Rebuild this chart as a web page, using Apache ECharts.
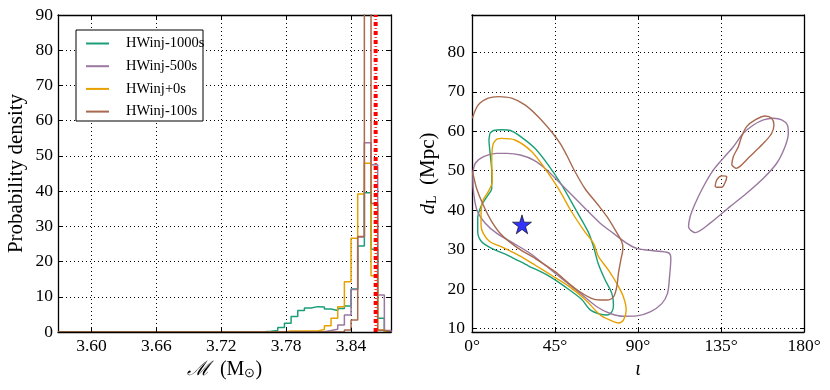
<!DOCTYPE html>
<html>
<head>
<meta charset="utf-8">
<script src="https://cdn.jsdelivr.net/npm/echarts@6/dist/echarts.min.js"></script>
<style>
  html, body { margin: 0; padding: 0; background: #fff; }
  #chart { width: 830px; height: 390px; }
</style>
</head>
<body>
<div id="chart"></div>
<script>
  // ---- left panel: chirp mass histograms (50 bins between mcMin and mcMax)
  const mcMin = 3.569, mcMax = 3.877, nBins = 50;
  const mcTicks = [3.60, 3.66, 3.72, 3.78, 3.84];
  const mcTrue = 3.8628;
  const histNames = ['HWinj-1000s', 'HWinj-500s', 'HWinj+0s', 'HWinj-100s'];
  const colors = ['#1b9e77', '#9a78a0', '#e6a100', '#a8694e'];

  const dens1000 = [0,0,0,0,0,0,0,0,0,0, 0,0,0,0,0,0,0,0,0,0, 0,0,0,0,0,0,0,0,0,0,
    0.1,0.2,0.4,1.3,2.5,4.4,6.1,6.8,7.2,7.1, 6.5,6.1,6.7,7.4,12.2,24.4,39.5,23.5,3.9,0];
  const dens500 = [0,0,0,0,0,0,0,0,0,0, 0,0,0,0,0,0,0,0,0,0, 0,0,0,0,0,0,0,0,0,0,
    0,0,0,0,0,0,0,0,0,0.1, 0.4,0.8,2.0,4.8,12.1,27.0,53.7,47.5,10.5,0.4];
  const dens0 = [0,0,0,0,0,0,0,0,0,0, 0,0,0,0,0,0,0,0,0,0, 0,0,0,0,0,0,0,0,0,0,
    0,0,0,0,0.3,0.3,0.3,0.3,0.3,0.7, 1.8,3.9,7.2,14.3,26.6,39.2,47.9,16.0,0.6,0];
  const dens100 = [0,0,0,0,0,0,0,0,0,0, 0,0,0,0,0,0,0,0,0,0, 0,0,0,0,0,0,0,0,0,0,
    0,0,0,0,0,0,0,0,0,0, 0,0,0,0.6,3.4,27.1,130,36.5,0.5,0];

  // ---- right panel: 90% contours in (iota [deg], dL [Mpc])
  const cont1000 = [[9.7,59.5],[11.7,60.2],[16.1,60.4],[20.8,60.2],[25.1,59.1],[34.1,55.7],[41.3,51.5],
    [48.6,46.4],[55.8,40.5],[63.0,34.5],[65.9,30.7],[68.4,26.5],[72.2,22.3],[75.8,18.9],[76.7,15.9],
    [75.8,14.2],[73.1,13.4],[69.5,13.6],[64.1,14.7],[59.4,17.4],[50.4,20.6],[41.3,23.4],[30.5,25.9],
    [19.7,28.5],[10.7,30.3],[5.2,32.0],[3.1,34.5],[3.1,37.9],[5.2,41.3],[8.8,43.9],[10.7,45.5],
    [10.7,49.8],[9.7,54.9],[9.2,57.8]];
  const cont500 = [[0.5,49.4],[1.8,51.9],[6.3,53.6],[13.5,54.4],[19.0,54.4],[26.2,54.0],[33.4,52.7],
    [40.6,50.2],[47.8,46.8],[55.1,43.4],[62.3,40.0],[69.5,36.7],[76.7,34.1],[84.0,31.6],[89.4,30.3],
    [98.4,29.7],[106.5,29.2],[107.8,27.8],[107.1,23.1],[106.0,18.9],[102.9,16.3],[96.6,14.2],
    [89.4,13.2],[82.1,13.1],[74.9,13.8],[67.7,15.5],[58.7,18.9],[49.6,22.3],[40.6,25.7],[31.6,29.0],
    [22.6,31.6],[13.5,34.1],[7.2,36.7],[2.7,40.0],[0.9,44.3],[0.5,47.7]];
  const cont500b = [[118.3,35.0],[121.0,34.3],[129.1,36.7],[139.9,40.9],[148.9,44.3],[158.0,48.1],
    [165.2,51.9],[169.7,56.1],[171.5,59.5],[171.0,61.6],[167.9,62.9],[163.4,63.3],[158.0,62.9],
    [152.6,61.6],[147.1,59.5],[141.7,56.1],[136.3,53.2],[130.9,50.2],[125.5,46.0],[121.0,41.7],
    [118.3,38.4],[117.4,35.8]];
  const cont0 = [[11.6,57.0],[13.5,58.0],[16.1,58.2],[23.3,57.8],[32.3,54.9],[39.5,50.6],[46.8,45.5],
    [54.0,39.6],[61.2,34.5],[65.9,31.6],[68.6,28.2],[74.0,24.8],[78.5,21.4],[82.1,18.0],[83.6,14.7],
    [82.1,12.1],[79.4,11.4],[74.9,12.1],[69.5,13.4],[61.2,17.4],[52.2,20.8],[43.1,23.5],[34.1,26.1],
    [25.1,28.6],[16.1,30.7],[9.7,32.0],[6.1,34.1],[4.9,36.2],[4.9,39.6],[6.1,42.6],[8.8,44.7],
    [11.0,47.2],[10.7,52.3],[11.0,55.7]];
  const cont100 = [[0.2,63.3],[3.4,66.7],[8.8,68.4],[14.3,68.8],[21.5,68.4],[28.7,66.7],[35.9,63.7],
    [43.1,59.9],[47.7,57.0],[51.3,54.0],[55.8,49.8],[61.2,45.5],[68.4,41.3],[73.1,38.4],[77.6,35.0],
    [81.2,32.0],[81.8,30.3],[80.7,27.4],[79.4,24.0],[78.5,20.6],[76.7,18.0],[73.1,17.2],[69.5,17.2],
    [64.8,17.6],[55.8,20.2],[45.0,24.4],[34.1,27.8],[25.1,30.3],[16.1,33.7],[10.7,37.1],[6.1,41.3],
    [2.5,45.5],[0.7,48.9],[0.2,49.8]];
  const cont100b = [[140.8,51.5],[141.7,53.6],[144.4,56.1],[146.2,58.7],[148.9,61.2],[153.5,62.9],
    [158.9,63.9],[162.5,63.3],[163.7,61.6],[162.5,59.5],[158.9,57.4],[154.4,55.3],[149.8,53.2],
    [145.3,51.1],[143.2,50.6]];
  const cont100c = [[131.8,46.0],[132.7,47.7],[135.4,48.7],[138.1,48.5],[137.2,47.0],[135.4,45.8],[132.7,45.8]];
  const injected = [[27.1, 36.4]];
  const dlTicks = [10, 20, 30, 40, 50, 60, 70, 80];

  const serif = 'Liberation Serif';
  const black = '#000';

  function stepPoints(d) {
    const w = (mcMax - mcMin) / nBins;
    const pts = [[mcMin, 0]];
    d.forEach((v, i) => pts.push([mcMin + i * w, v]));
    pts.push([mcMax, 0]);
    return pts;
  }
  function closed(c) { return c.concat([c[0]]); }

  const chart = echarts.init(document.getElementById('chart'));

  const tickStyle = { show: true, inside: true, length: 4, lineStyle: { color: black, width: 1 } };
  const lineAx = { show: true, onZero: false, lineStyle: { color: black, width: 1.3 } };
  const gridDots = { show: true, lineStyle: { color: black, width: 1, type: [1, 3] } };
  const lab = { color: black, fontFamily: serif, fontSize: 17.5 };

  function histSeries(name, d, i) {
    return {
      name: name, type: 'line', step: 'end', data: stepPoints(d),
      xAxisIndex: 0, yAxisIndex: 0, showSymbol: false, clip: true,
      lineStyle: { color: colors[i], width: 1.5 }, itemStyle: { color: colors[i] }, z: 3 + i
    };
  }
  function contSeries(name, c, i, close) {
    return {
      name: name, type: 'line', data: close ? closed(c) : c, smooth: 0.3,
      xAxisIndex: 2, yAxisIndex: 2, showSymbol: false,
      lineStyle: { color: colors[i], width: 1.4 }, itemStyle: { color: colors[i] }, z: 3 + i
    };
  }

  const option = {
    animation: false,
    backgroundColor: '#fff',
    grid: [
      { left: 58, right: 439, top: 15, bottom: 58, outerBoundsMode: 'none' },
      { left: 472, right: 26, top: 15, bottom: 58, outerBoundsMode: 'none' }
    ],
    legend: {
      data: histNames, orient: 'vertical', left: 86, top: 36, padding: 0,
      icon: 'rect', itemWidth: 23, itemHeight: 2, itemGap: 7.7,
      textStyle: { fontFamily: serif, fontSize: 14.5, lineHeight: 14, color: black, padding: [0, 0, 0, 12] },
      z: 10
    },
    graphic: [{
      type: 'rect', z: 9, shape: { x: 76, y: 30, width: 127, height: 91 },
      style: { fill: '#fff', stroke: black, lineWidth: 1 }
    }],
    xAxis: [
      // bottom axis drawn above the histograms so their zero baselines hide under it
      { type: 'value', gridIndex: 0, min: mcMin, max: mcMax, axisLine: lineAx, z: 10,
        axisTick: Object.assign({ customValues: mcTicks }, tickStyle),
        axisLabel: Object.assign({ customValues: mcTicks, margin: 5, formatter: v => v.toFixed(2) }, lab),
        splitLine: { show: false },
        name: '{s|ℳ}  (M{sub|⊙})', nameLocation: 'middle', nameGap: 26,
        nameTextStyle: { fontFamily: serif, fontSize: 20, color: black,
          rich: { s: { fontFamily: 'DejaVu Serif', fontSize: 20, fontStyle: 'italic' },
                  sub: { fontSize: 13, verticalAlign: 'bottom', padding: [8, 0, 0, 0] } } } },
      { type: 'value', gridIndex: 0, position: 'top', min: mcMin, max: mcMax, axisLine: lineAx,
        axisTick: Object.assign({ customValues: mcTicks }, tickStyle),
        axisLabel: { show: false }, splitLine: gridDots },
      { type: 'value', gridIndex: 1, min: 0, max: 180, interval: 45, axisLine: lineAx,
        axisTick: tickStyle,
        axisLabel: Object.assign({ margin: 5, formatter: '{value}°' }, lab),
        splitLine: gridDots,
        name: 'ι', nameLocation: 'middle', nameGap: 24,
        nameTextStyle: { fontFamily: serif, fontSize: 20, fontStyle: 'italic', color: black } },
      { type: 'value', gridIndex: 1, position: 'top', min: 0, max: 180, interval: 45, axisLine: lineAx,
        axisTick: tickStyle, axisLabel: { show: false }, splitLine: { show: false } }
    ],
    yAxis: [
      { type: 'value', gridIndex: 0, min: 0, max: 90, interval: 10, axisLine: lineAx,
        axisTick: tickStyle, axisLabel: Object.assign({ margin: 5 }, lab), splitLine: gridDots,
        name: 'Probability density', nameLocation: 'middle', nameGap: 31,
        nameTextStyle: { fontFamily: serif, fontSize: 21, color: black } },
      { type: 'value', gridIndex: 0, position: 'right', min: 0, max: 90, interval: 10, axisLine: lineAx,
        axisTick: tickStyle, axisLabel: { show: false }, splitLine: { show: false } },
      { type: 'value', gridIndex: 1, min: 9.1, max: 89.5, axisLine: lineAx,
        axisTick: Object.assign({ customValues: dlTicks }, tickStyle),
        axisLabel: Object.assign({ customValues: dlTicks, margin: 7 }, lab), splitLine: gridDots,
        name: '{it|d}{sub|L}  (Mpc)', nameLocation: 'middle', nameGap: 33,
        nameTextStyle: { fontFamily: serif, fontSize: 21, color: black,
          rich: { it: { fontFamily: serif, fontSize: 21, fontStyle: 'italic' },
                  sub: { fontFamily: serif, fontSize: 14, verticalAlign: 'bottom', padding: [8, 0, 0, 0] } } } },
      { type: 'value', gridIndex: 1, position: 'right', min: 9.1, max: 89.5, axisLine: lineAx,
        axisTick: Object.assign({ customValues: dlTicks }, tickStyle),
        axisLabel: { show: false }, splitLine: { show: false } }
    ],
    series: [
      histSeries(histNames[0], dens1000, 0),
      histSeries(histNames[1], dens500, 1),
      histSeries(histNames[2], dens0, 2),
      histSeries(histNames[3], dens100, 3),
      { type: 'line', data: [[mcTrue, 0], [mcTrue, 90]], xAxisIndex: 0, yAxisIndex: 0,
        showSymbol: false, z: 8, lineStyle: { color: '#ff0000', width: 4, type: [4, 5] } },
      { type: 'line', data: [[mcTrue, 0], [mcTrue, 90]], xAxisIndex: 0, yAxisIndex: 0,
        showSymbol: false, z: 8, lineStyle: { color: '#ff3030', width: 2.5, type: [1, 8], dashOffset: 3 } },
      contSeries('c1000', cont1000, 0, true),
      contSeries('c500', cont500, 1, true),
      contSeries('c500b', cont500b, 1, true),
      contSeries('c0', cont0, 2, true),
      contSeries('c100', cont100, 3, false),
      contSeries('c100b', cont100b, 3, true),
      contSeries('c100c', cont100c, 3, true),
      { type: 'scatter', data: injected, xAxisIndex: 2, yAxisIndex: 2, z: 10,
        symbol: 'path://M50,0 L61,35 L98,35 L68,57 L79,91 L50,70 L21,91 L32,57 L2,35 L39,35 Z',
        symbolSize: 19, itemStyle: { color: '#0000ff', borderColor: black, borderWidth: 0.8 } }
    ]
  };
  chart.setOption(option);
</script>
</body>
</html>
